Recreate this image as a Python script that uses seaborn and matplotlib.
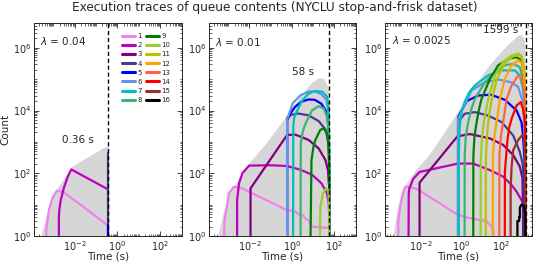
import numpy as np
import pandas as pd
import matplotlib
matplotlib.use("Agg")
import matplotlib.pyplot as plt
import seaborn as sns
from matplotlib.lines import Line2D
from matplotlib.ticker import LogLocator, NullFormatter

sns.set_style("ticks")
plt.rcParams['font.family'] = ['DejaVu Sans']
plt.rcParams['mathtext.fontset'] = 'dejavusans'

# ---------------- data ----------------
queue_ids = list(range(1, 17))
queue_colors = ['violet', '#bf00bf', 'purple', 'darkslateblue', 'blue', 'cornflowerblue',
                '#00bfbf', 'mediumseagreen', 'green', 'yellowgreen', '#bfbf00', 'orange',
                'tomato', 'red', 'brown', 'black']

lambdas = ['0.04', '0.01', '0.0025']
end_times = [0.36, 58, 1599]
end_labels = ['0.36 s', '58 s', '1599 s']

# panel A (lambda = 0.04)
envA_t = [2.3e-4, 2.8e-4, 4.0e-4, 6.0e-4, 9.0e-4, 1.45e-3, 2.9e-3, 7.0e-3, 0.36, 0.36]
envA_n = [0.5, 1.3, 3, 9, 20, 32, 65, 165, 800, 0.5]
a1_t = [4.4e-4, 4.6e-4, 5.2e-4, 6.2e-4, 8.9e-4, 1.45e-3, 3.0e-3, 0.36]
a1_n = [0.5, 1.5, 3, 7, 16, 28, 25, 2.2]
a2_t = [1.8e-3, 1.8e-3, 1.9e-3, 2.2e-3, 3.2e-3, 4.8e-3, 6.9e-3, 0.36]
a2_n = [0.5, 4, 7, 14, 37, 80, 132, 31]
a4_t = [0.36, 0.36]
a4_n = [0.5, 440]
a5_t = [0.36, 0.36]
a5_n = [0.5, 2.2]

# panel B (lambda = 0.01)
envB_t = [3.0e-4, 3.4e-4, 5.5e-4, 1.0e-3, 1.8e-3, 3.2e-3, 9.3e-3, 0.058, 0.5, 3.1, 9.1,
          18.6, 32, 51, 58, 58]
envB_n = [0.5, 1.2, 5, 22, 40, 60, 210, 890, 6300, 35000, 81000, 112000, 105000, 56000,
          27500, 0.5]
b1_t = [6.2e-4, 6.6e-4, 1.07e-3, 1.8e-3, 4.5e-3, 0.56, 1.5, 2.0, 3.5, 4.5, 7.0, 8.5, 58]
b1_n = [0.5, 3, 23, 37, 33, 6.8, 6.0, 5.0, 4.5, 3.5, 3.0, 2.0, 1.8]
b2_t = [2.6e-3, 2.6e-3, 3.2e-3, 4.6e-3, 9.5e-3, 0.1, 0.6, 2.5, 9, 25, 45, 55, 58, 58]
b2_n = [0.5, 14, 48, 100, 175, 180, 170, 130, 90, 48, 24, 12, 6, 0.5]
b3_t = [0.0112, 0.0112, 0.6, 1.5, 6.3, 18.6, 39, 51, 58, 58]
b3_n = [0.5, 33, 1660, 1700, 1150, 620, 263, 126, 37, 0.5]
b4_t = [0.6, 0.6, 0.87, 2.1, 6.3, 18.6, 39, 54, 58, 58]
b4_n = [0.5, 4900, 7300, 8000, 7000, 4600, 2500, 1000, 260, 0.5]
b5_t = [0.6, 0.6, 1.4, 2.8, 6, 12, 25, 42, 54, 58, 58]
b5_n = [0.5, 5600, 13000, 19000, 22500, 22000, 16500, 9500, 3500, 500, 0.5]
b6_t = [0.6, 0.6, 1.1, 2.6, 6, 13, 25, 44, 54, 58, 58]
b6_n = [0.5, 5200, 17000, 31000, 40000, 40500, 33000, 22000, 8000, 1500, 0.5]
b7_t = [1.15, 1.17, 1.3, 1.8, 3.1, 6.3, 13, 27, 47, 55, 58, 58]
b7_n = [0.5, 3000, 6000, 10000, 21000, 35000, 42000, 40000, 27500, 10000, 2000, 0.5]
b8_t = [2.6, 2.65, 3.3, 4.5, 9.1, 18.6, 32, 47, 55, 58, 58]
b8_n = [0.5, 900, 2200, 3900, 10200, 13800, 11700, 6300, 2000, 400, 0.5]
b9_t = [7.6, 8.5, 10.5, 13, 22, 32, 47, 55, 58, 58]
b9_n = [0.5, 260, 700, 1150, 2400, 2700, 1850, 600, 100, 0.5]
b10_t = [21, 22.4, 30, 42, 53, 58, 58]
b10_n = [0.5, 8.5, 23, 33, 28, 8.5, 0.5]

# panel C (lambda = 0.0025)
envC_t = [4.0e-4, 5.5e-4, 7.5e-4, 1.1e-3, 1.6e-3, 2.6e-3, 4.5e-3, 9e-3, 0.025, 0.25, 2.5,
          25, 158, 630, 1000, 1410, 1599, 1599]
envC_n = [0.5, 3, 9, 22, 40, 58, 100, 175, 355, 3200, 32000, 263000, 1e6, 2.3e6, 2.57e6,
          1.86e6, 7e5, 0.5]
c1_t = [7.4e-4, 7.5e-4, 8.9e-4, 1.2e-3, 1.6e-3, 1.9e-3, 6e-3, 0.6, 1.6, 4, 18, 32, 40, 41]
c1_n = [0.5, 3, 7.4, 20, 36, 37, 32, 5, 4, 3.5, 3, 2, 1.5, 0.5]
c2_t = [2.4e-3, 2.45e-3, 2.6e-3, 4.1e-3, 8.5e-3, 0.7, 4, 27, 123, 324, 575, 1000, 1480, 1520]
c2_n = [0.5, 20, 32, 66, 110, 204, 204, 126, 78, 42, 26, 14, 8.5, 0.5]
c3_t = [8.5e-3, 8.5e-3, 0.65, 2.7, 27, 123, 390, 830, 1120, 1200, 1220]
c3_n = [0.5, 50, 1500, 1780, 1290, 800, 380, 162, 70, 5, 0.5]
c4_t = [0.7, 0.7, 1.5, 4.8, 22, 102, 390, 830, 1150, 1300, 1320]
c4_n = [0.5, 4300, 7900, 8900, 6900, 4300, 1600, 480, 200, 50, 0.5]
c5_t = [0.7, 0.7, 1.9, 7, 30, 150, 575, 1000, 1200, 1450, 1500]
c5_n = [0.5, 6200, 20000, 30000, 32000, 22000, 10000, 4300, 1600, 200, 0.5]
c6_t = [0.7, 0.7, 3.3, 15, 69, 320, 690, 1070, 1350, 1500, 1530]
c6_n = [0.5, 5500, 44000, 79000, 98000, 79000, 56000, 23000, 5500, 500, 0.5]
c7_t = [0.76, 0.77, 0.8, 0.9, 1.1, 1.5, 2.5, 4.8, 22, 102, 470, 830, 1200, 1480, 1560, 1599]
c7_n = [0.5, 300, 1500, 4500, 10000, 19000, 38000, 63000, 132000, 190000, 190000, 132000,
        49000, 11000, 1000, 0.5]
c8_t = [1.48, 1.5, 1.7, 2.24, 3.2, 4.8, 15, 48, 148, 390, 830, 1200, 1480, 1570, 1599]
c8_n = [0.5, 370, 1500, 4300, 11000, 23000, 79000, 166000, 275000, 310000, 240000, 102000,
        30000, 2000, 0.5]
c9_t = [4, 4.05, 4.6, 5.9, 7.5, 10.2, 27, 69, 220, 575, 1000, 1350, 1520, 1599]
c9_n = [0.5, 370, 1500, 4300, 10000, 23000, 102000, 275000, 450000, 500000, 400000, 166000,
        30000, 0.5]
c10_t = [9.3, 9.5, 11, 13.5, 17, 22, 48, 123, 320, 690, 1000, 1300, 1500, 1599]
c10_n = [0.5, 300, 1500, 4300, 10000, 23000, 132000, 350000, 560000, 650000, 560000, 300000,
         80000, 0.5]
c11_t = [16.6, 17, 19, 22, 26, 32, 60, 150, 350, 700, 1000, 1300, 1500, 1599]
c11_n = [0.5, 300, 1500, 4000, 9000, 20000, 100000, 320000, 520000, 600000, 520000, 260000,
         60000, 0.5]
c12_t = [37, 38, 45, 58, 70, 85, 148, 324, 690, 1070, 1350, 1500, 1599]
c12_n = [0.5, 370, 1500, 4300, 10000, 23000, 102000, 275000, 400000, 310000, 166000, 40000, 0.5]
c13_t = [79, 80, 95, 123, 150, 182, 324, 690, 1000, 1350, 1500, 1599]
c13_n = [0.5, 370, 1500, 4300, 10000, 23000, 63000, 132000, 115000, 49000, 8000, 0.5]
c14_t = [148, 150, 175, 204, 250, 324, 575, 930, 1200, 1480, 1599]
c14_n = [0.5, 110, 400, 1260, 3000, 5500, 14500, 18600, 11200, 4300, 0.5]
c15_t = [290, 290, 320, 390, 690, 1100, 1350, 1500, 1599]
c15_n = [0.5, 30, 150, 550, 1150, 1660, 1500, 500, 0.5]
c16_t = [630, 630, 770, 770, 830, 830, 1000, 1350, 1550, 1560]
c16_n = [0.5, 3, 3, 4, 4, 8, 10, 9, 5, 0.5]

panels = [
    dict(env=(envA_t, envA_n),
         traces={1: (a1_t, a1_n), 2: (a2_t, a2_n), 4: (a4_t, a4_n), 5: (a5_t, a5_n)}),
    dict(env=(envB_t, envB_n),
         traces={1: (b1_t, b1_n), 2: (b2_t, b2_n), 3: (b3_t, b3_n), 4: (b4_t, b4_n),
                 5: (b5_t, b5_n), 6: (b6_t, b6_n), 7: (b7_t, b7_n), 8: (b8_t, b8_n),
                 9: (b9_t, b9_n), 10: (b10_t, b10_n)}),
    dict(env=(envC_t, envC_n),
         traces={1: (c1_t, c1_n), 2: (c2_t, c2_n), 3: (c3_t, c3_n), 4: (c4_t, c4_n),
                 5: (c5_t, c5_n), 6: (c6_t, c6_n), 7: (c7_t, c7_n), 8: (c8_t, c8_n),
                 9: (c9_t, c9_n), 10: (c10_t, c10_n), 11: (c11_t, c11_n),
                 12: (c12_t, c12_n), 13: (c13_t, c13_n), 14: (c14_t, c14_n),
                 15: (c15_t, c15_n), 16: (c16_t, c16_n)}),
]

# ---------------- layout ----------------
W, H = 550, 263
fig = plt.figure(figsize=(W / 100, H / 100), dpi=100)
ax_boxes = [(34.3, 147.2), (209.3, 146.4), (385, 146.7)]
ax_top, ax_bot = 22.7, 236
xlims = [(10 ** -3.9, 10 ** 3.02), (10 ** -3.9, 10 ** 3.02), (10 ** -3.79, 10 ** 3.51)]
lam_pos = [(0.04, 0.915), (0.04, 0.91), (0.045, 0.92)]
end_pos = [(0.186, 0.45), (0.563, 0.77), (0.669, 0.968)]

axes = []
for i, (left, width) in enumerate(ax_boxes):
    ax = fig.add_axes([left / W, 1 - ax_bot / H, width / W, (ax_bot - ax_top) / H])
    axes.append(ax)
    ax.set_xscale('log')
    ax.set_yscale('log')
    p = panels[i]
    et, en = p['env']
    ax.fill_between(et, en, 1e-3, color='#d6d6d6', lw=0, zorder=1)
    for q, (t, n) in p['traces'].items():
        df = pd.DataFrame({'t': t, 'n': n})
        sns.lineplot(data=df, x='t', y='n', sort=False, estimator=None,
                     color=queue_colors[q - 1], lw=1.6, ax=ax, legend=False, zorder=2)
    ax.axvline(end_times[i], color='black', ls=(0, (3, 2)), lw=1.0, zorder=3)
    ax.set_xlim(*xlims[i])
    ax.set_ylim(1, 10 ** 6.8)
    ax.set_xticks([1e-2, 1, 1e2])
    ax.set_yticks([1, 1e2, 1e4, 1e6])
    for axis in (ax.xaxis, ax.yaxis):
        axis.set_minor_locator(LogLocator(base=10, subs=np.arange(1, 10), numticks=40))
        axis.set_minor_formatter(NullFormatter())
    ax.tick_params(which='both', direction='in', top=True, right=True, labelsize=7, pad=2)
    ax.tick_params(which='major', length=3.5, width=0.6)
    ax.tick_params(which='minor', length=1.8, width=0.5)
    for s in ax.spines.values():
        s.set_linewidth(0.7)
    ax.set_xlabel('Time (s)', fontsize=7.5, labelpad=-1)
    ax.set_ylabel('Count' if i == 0 else '', fontsize=7.5, labelpad=2)
    ax.text(*lam_pos[i], r'$\lambda$ = ' + lambdas[i], transform=ax.transAxes,
            fontsize=7.5, ha='left', va='center')
    ax.text(*end_pos[i], end_labels[i], transform=ax.transAxes, fontsize=7.5,
            ha='left', va='center')

handles = [Line2D([], [], color=c, lw=2.2) for c in queue_colors]
axes[0].legend(handles, [str(q) for q in queue_ids], ncol=2, loc='upper left',
               bbox_to_anchor=(0.594, 0.952), frameon=False, fontsize=5,
               handlelength=1.9, handletextpad=0.33, columnspacing=0.6,
               labelspacing=0.46, borderpad=0, borderaxespad=0)

fig.suptitle('Execution traces of queue contents (NYCLU stop-and-frisk dataset)',
             x=0.5, y=1 - 8 / H, va='center', fontsize=8.7)

fig.savefig('out.png', dpi=100)
